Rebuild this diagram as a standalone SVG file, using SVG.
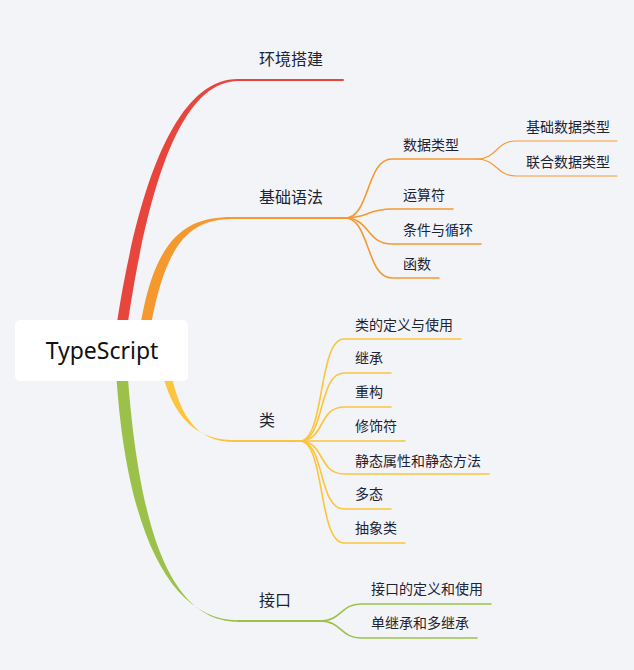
<svg xmlns="http://www.w3.org/2000/svg" width="634" height="670" viewBox="0 0 634 670">
<style>
text{font-family:"Noto Sans CJK SC","Noto Sans",sans-serif;fill:#1d2433}
.l1{font-size:16px}
.l2{font-size:14px}
.root{font-family:"Noto Sans","Noto Sans CJK SC",sans-serif;font-size:23px;fill:#111}
.ln{fill:none;stroke-linecap:round}
.r{stroke:#e8463c}.o{stroke:#f5992e}.y{stroke:#fcc53c}.g{stroke:#9cc14b}
.w2{stroke-width:2}.w15{stroke-width:1.6}.w1{stroke-width:1.1}
</style>
<rect width="634" height="670" fill="#f3f4f8"/>
<g id="connectors">
  <!-- main tapered branches -->
  <path fill="#e8463c" d="M113,350 C134,195 173,78.8 238,79 L238,81 C177,81.4 144,200 124,350 Z"/>
  <path class="ln r w2" d="M238,80 H343"/>
  <path fill="#f5992e" d="M137,350 C150,238 184,217.2 232,217 L232,219 C188,219.4 162,244 147,350 Z"/>
  <path class="ln o w2" d="M232,218 H347"/>
  <path fill="#fcc53c" d="M158,350 C168,420 198,440.2 235,440 L235,442 C196,442.4 176,416 167,350 Z"/>
  <path class="ln y w2" d="M235,441 H300"/>
  <path fill="#9cc14b" d="M115,350 C122,525 168,620.3 238,620.2 L238,621.8 C165,621.7 136,515 126,350 Z"/>
  <path class="ln g w2" d="M238,621 H320"/>
  <!-- orange children -->
  <path class="ln o w15" d="M345,218 C370,218 366,159 392,159 H477"/>
  <path class="ln o w15" d="M345,218 C370,218 366,209 392,209 H453"/>
  <path class="ln o w15" d="M345,218 C370,218 366,244 392,244 H481"/>
  <path class="ln o w15" d="M345,218 C370,218 366,278 392,278 H439"/>
  <path class="ln o w1" d="M477,159 C497,159 496,141 516,141 H617"/>
  <path class="ln o w1" d="M477,159 C497,159 496,176 516,176 H617"/>
  <!-- yellow children -->
  <path class="ln y w15" d="M300,441 C325,441 318,339 344,339 H461"/>
  <path class="ln y w15" d="M300,441 C325,441 318,373 344,373 H391"/>
  <path class="ln y w15" d="M300,441 C325,441 318,407 344,407 H391"/>
  <path class="ln y w15" d="M300,441 H405"/>
  <path class="ln y w15" d="M300,441 C325,441 318,474 344,474 H489"/>
  <path class="ln y w15" d="M300,441 C325,441 318,509 344,509 H391"/>
  <path class="ln y w15" d="M300,441 C325,441 318,543 344,543 H405"/>
  <!-- green children -->
  <path class="ln g w15" d="M320,621 C342,621 340,604 361,604 H491"/>
  <path class="ln g w15" d="M320,621 C342,621 340,638 361,638 H477"/>
</g>
<g id="root">
  <rect x="15" y="320" width="173" height="61" rx="5" fill="#ffffff"/>
  <text class="root" x="102" y="359" text-anchor="middle">TypeScript</text>
</g>
<g id="n-env"><text class="l1" x="259" y="65">环境搭建</text></g>
<g id="n-basic"><text class="l1" x="259" y="203">基础语法</text></g>
<g id="n-datatype"><text class="l2" x="403" y="150">数据类型</text></g>
<g id="n-basictype"><text class="l2" x="526" y="132">基础数据类型</text></g>
<g id="n-uniontype"><text class="l2" x="526" y="167">联合数据类型</text></g>
<g id="n-operator"><text class="l2" x="403" y="200">运算符</text></g>
<g id="n-cond"><text class="l2" x="403" y="235">条件与循环</text></g>
<g id="n-func"><text class="l2" x="403" y="269">函数</text></g>
<g id="n-class"><text class="l1" x="259" y="426">类</text></g>
<g id="n-classdef"><text class="l2" x="355" y="330">类的定义与使用</text></g>
<g id="n-inherit"><text class="l2" x="355" y="363">继承</text></g>
<g id="n-refactor"><text class="l2" x="355" y="397">重构</text></g>
<g id="n-modifier"><text class="l2" x="355" y="431">修饰符</text></g>
<g id="n-static"><text class="l2" x="355" y="466">静态属性和静态方法</text></g>
<g id="n-poly"><text class="l2" x="355" y="499">多态</text></g>
<g id="n-abstract"><text class="l2" x="355" y="533">抽象类</text></g>
<g id="n-interface"><text class="l1" x="259" y="606">接口</text></g>
<g id="n-ifdef"><text class="l2" x="371" y="594">接口的定义和使用</text></g>
<g id="n-ifinherit"><text class="l2" x="371" y="628">单继承和多继承</text></g>
</svg>
